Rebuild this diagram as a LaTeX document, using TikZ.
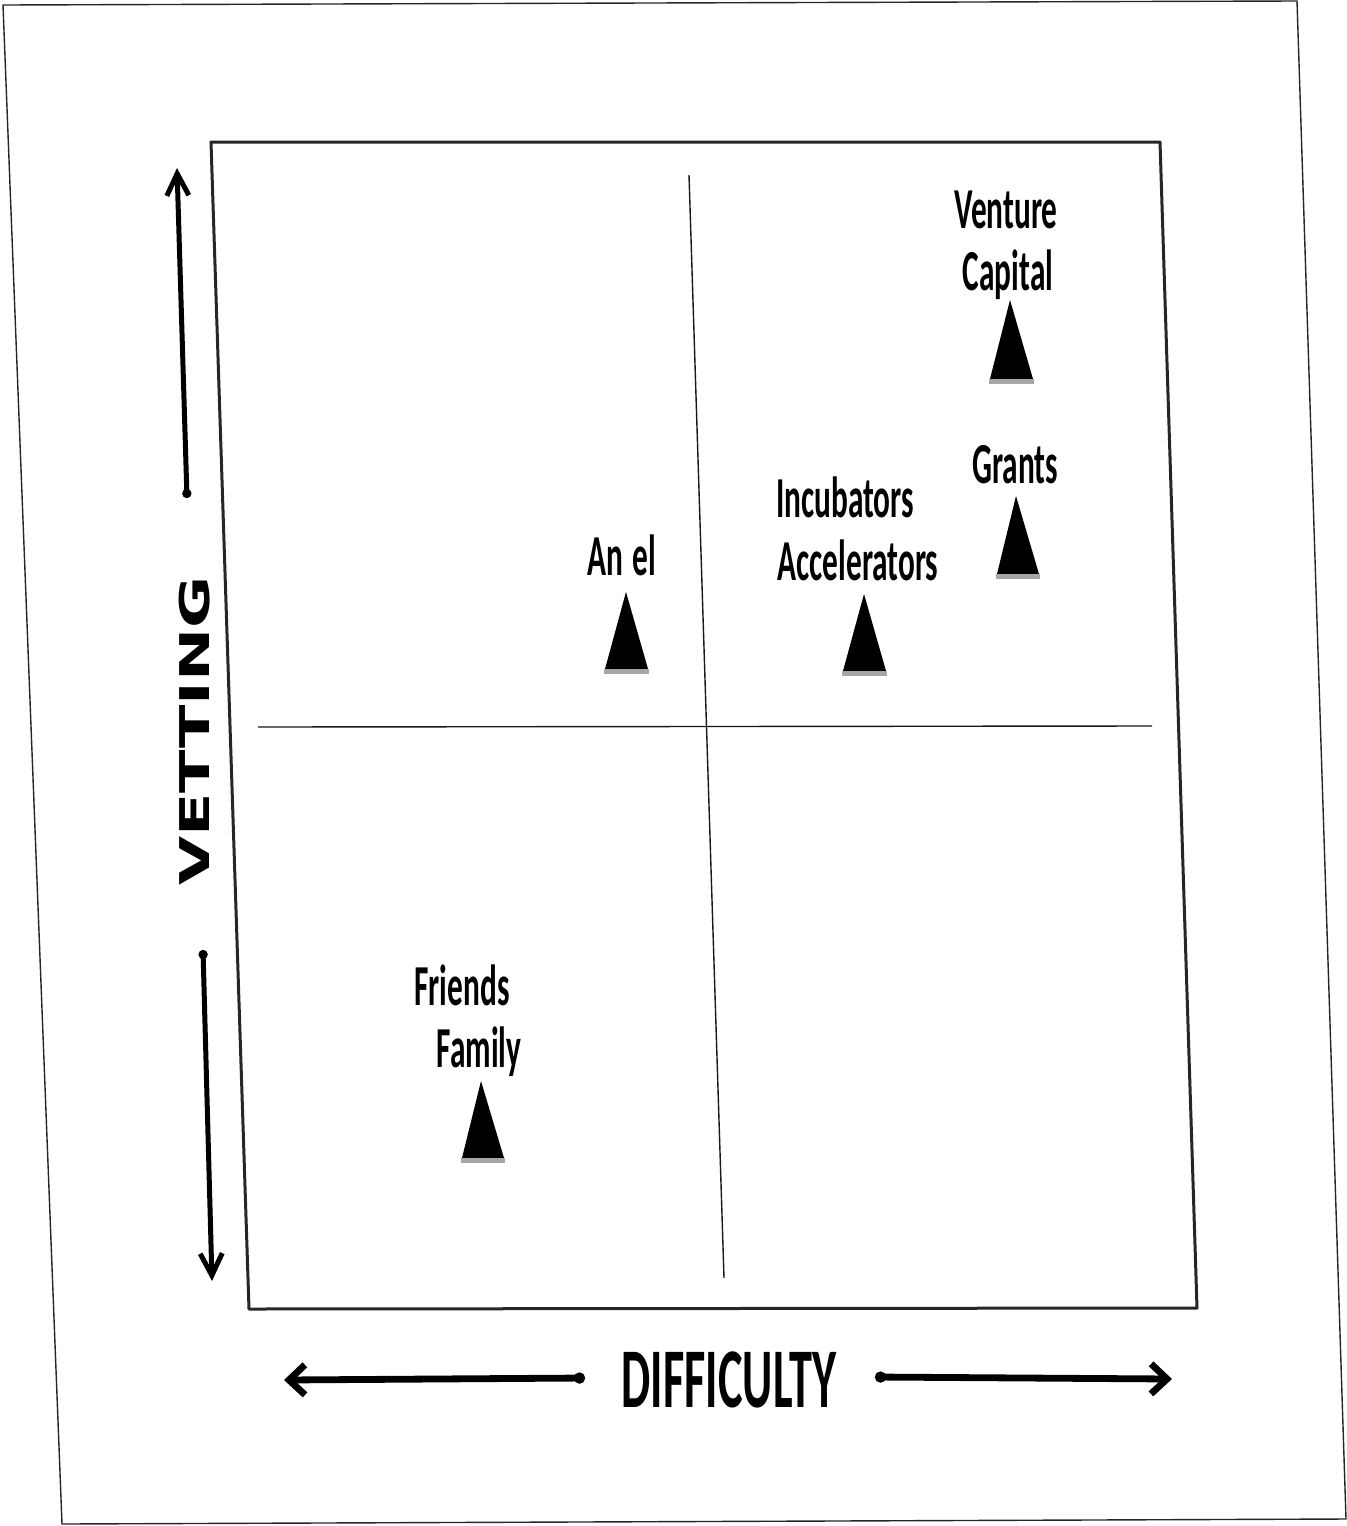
\documentclass[tikz,border=0pt]{standalone}
\usepackage{fontspec}
\usetikzlibrary{arrows.meta}
\newfontfamily\labfont{Carlito}
\newfontfamily\vetfont{DejaVu Sans}
\newcommand{\sq}[1]{\scalebox{0.54}[1]{#1}}
\tikzset{
  lab/.style={anchor=base, inner sep=0pt, font=\labfont\bfseries\fontsize{29}{29}\selectfont},
  marker/.style={fill=black},
  shadowband/.style={fill=black!35},
  vertarrow/.style={line width=2.5pt, {Circle[length=4.5pt,width=4.5pt]}-{Straight Barb[length=11pt,width=11pt]}},
  horarrow/.style={line width=3.4pt, {Circle[length=5.5pt,width=5.5pt]}-{Straight Barb[length=8pt,width=15pt]}},
  pageedge/.style={line width=0.7pt, black!85},
  framebox/.style={line width=1.5pt, black!85, line join=round},
  quadline/.style={line width=0.7pt, black!90},
}
\begin{document}
\begin{tikzpicture}[x=0.5pt,y=-0.5pt]
\useasboundingbox (0,0) rectangle (1346,1526);
\fill[white] (0,0) rectangle (1346,1526);
% page border
\draw[pageedge] (3,5) -- (1297,1) -- (1346,1519) -- (62,1524) -- cycle;
% frame
\draw[framebox] (211,142) -- (1160,142) -- (1197,1308) -- (249,1309) -- cycle;
% quadrant lines
\coordinate (qvt) at (689,175);
\coordinate (qvb) at (724,1278);
\coordinate (qhl) at (258,727);
\coordinate (qhr) at (1152,726);
\draw[quadline] (qvt) -- (qvb);
\draw[quadline] (qhl) -- (qhr);
% vetting arrows
\coordinate (vus) at (187,498);
\coordinate (vue) at (177,168);
\coordinate (vds) at (203,950);
\coordinate (vde) at (212,1281);
\draw[vertarrow] (vus) -- (vue);
\draw[vertarrow] (vds) -- (vde);
\node[rotate=90, inner sep=0pt, font=\vetfont\bfseries\fontsize{20.5}{20.5}\selectfont] (vetting) at (195,731) {\scalebox{1.55}[1]{VETTING}};
% difficulty arrows
\coordinate (dls) at (585,1378);
\coordinate (dle) at (284,1380);
\coordinate (drs) at (875,1377);
\coordinate (dre) at (1172,1379);
\draw[horarrow] (dls) -- (dle);
\draw[horarrow] (drs) -- (dre);
\node[anchor=base, inner sep=0pt, font=\labfont\bfseries\fontsize{42.5}{42.5}\selectfont] (difficulty) at (729,1407) {\scalebox{0.545}[1]{DIFFICULTY}};
% labels
\node[lab] (venture) at (1006,228) {\sq{Venture}};
\node[lab] (capital) at (1008,290) {\sq{Capital}};
\node[lab] (grants) at (1015,483) {\sq{Grants}};
\node[lab] (incub) at (845,517) {\sq{Incubators}};
\node[lab] (accel) at (858,580) {\sq{Accelerators}};
\node[lab] (angel) at (622,575) {\sq{An\hspace{0.3em}el}};
\node[lab] (friends) at (462,1005) {\sq{Friends}};
\node[lab] (family) at (479,1067) {\sq{Family}};
% triangle markers
\foreach \ax/\ay/\bl/\br/\by in {1010/300/990/1033/379, 1016/496/997/1039/574, 864/594/843/886/671, 626/592/605/648/669, 481/1081/462/504/1158}{
  \fill[marker] (\ax,\ay) -- (\br,\by) -- (\bl,\by) -- cycle;
  \fill[shadowband] (\bl-1,\by) rectangle (\br+1,\by+5);
}
\end{tikzpicture}
\end{document}
